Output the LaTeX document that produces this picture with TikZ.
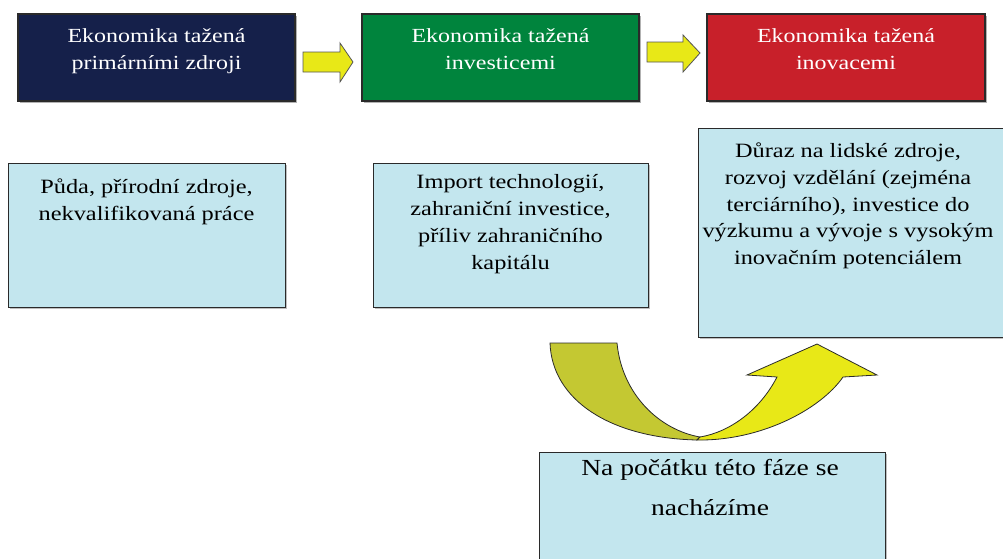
\documentclass[tikz,border=0pt]{standalone}
\usepackage{fontspec}
\usetikzlibrary{shadows}
\setmainfont{Liberation Serif}
\newfontfamily\tnr{Liberation Serif}[FakeStretch=1.2]
\definecolor{navybox}{HTML}{15204A}
\definecolor{greenbox}{HTML}{00843D}
\definecolor{redbox}{HTML}{C8202A}
\definecolor{lightblue}{HTML}{C3E6EE}
\definecolor{arrowyellow}{HTML}{E8E817}
\definecolor{arrowolive}{HTML}{C4C832}
\definecolor{edge}{HTML}{2A2A2A}
\begin{document}
\begin{tikzpicture}[x=1pt,y=-1pt,
  topbox/.style={draw=edge, line width=1.2pt, minimum width=277pt, minimum height=87pt, inner sep=0pt,
    drop shadow={shadow xshift=1.5pt, shadow yshift=-1.5pt, fill=black!60}},
  bluebox/.style={draw=edge, line width=1pt, fill=lightblue, inner sep=0pt,
    drop shadow={shadow xshift=1.5pt, shadow yshift=-1.5pt, fill=black!50}},
  toptext/.style={text=white, align=center, anchor=north, inner sep=0pt, font=\tnr\fontsize{20}{27}\selectfont},
  boxtext/.style={text=black, align=center, anchor=north, inner sep=0pt, font=\tnr\fontsize{20.3}{26.8}\selectfont},
  flatarrow/.style={fill=arrowyellow, draw=edge!80, line width=0.8pt}
]
\useasboundingbox (0,0) rectangle (1003,558);

% top boxes
\node[topbox, fill=navybox] (t1) at (156.5,57.5) {};
\node[topbox, fill=greenbox] (t2) at (500.5,57.5) {};
\node[topbox, fill=redbox, minimum width=278pt] (t3) at (846,57.5) {};
\node[toptext] (t1t) at ([yshift=-15pt]t1.north) {Ekonomika tažená\\primárními zdroji};
\node[toptext] (t2t) at ([yshift=-15pt]t2.north) {Ekonomika tažená\\investicemi};
\node[toptext] (t3t) at ([yshift=-15pt]t3.north) {Ekonomika tažená\\inovacemi};

% small arrows between top boxes
\coordinate (a1) at (303,52);
\coordinate (a2) at (647,42);
\draw[flatarrow] (a1) -- ++(37,0) -- ++(0,-9) -- ++(13,19) -- ++(-13,20) -- ++(0,-10) -- ++(-37,0) -- cycle;
\draw[flatarrow] (a2) -- ++(36,0) -- ++(0,-7) -- ++(17,18) -- ++(-17,19) -- ++(0,-10) -- ++(-36,0) -- cycle;

% light blue boxes
\node[bluebox, minimum width=277pt, minimum height=144pt] (b1) at (146.5,235) {};
\node[bluebox, minimum width=275pt, minimum height=144pt] (b2) at (510.5,235) {};
\node[bluebox, minimum width=310pt, minimum height=209pt] (b3) at (853,232.5) {};
\node[bluebox, minimum width=346pt, minimum height=120pt] (b4) at (712,512) {};

\node[boxtext] (b1t) at ([yshift=-16pt]b1.north) {Půda, přírodní zdroje,\\nekvalifikovaná práce};
\node[boxtext] (b2t) at ([yshift=-12pt]b2.north) {Import technologií,\\zahraniční investice,\\příliv zahraničního\\kapitálu};
\node[boxtext] (b3t) at ([xshift=-5pt,yshift=-15pt]b3.north) {Důraz na lidské zdroje,\\rozvoj vzdělání (zejména\\terciárního), investice do\\výzkumu a vývoje s vysokým\\inovačním potenciálem};
\node[boxtext, font=\tnr\fontsize{23}{40}\selectfont] (b4t) at ([xshift=-2pt,yshift=-8pt]b4.north) {Na počátku této fáze se\\nacházíme};

% curved arrow
\draw[fill=arrowolive, draw=edge, line width=0.8pt]
  (550,343) -- (617,343) .. controls (622,395) and (660,430) .. (700,437)
  -- (697,440) .. controls (610,438) and (552,400) .. (550,343) -- cycle;
\draw[fill=arrowyellow, draw=edge, line width=0.8pt]
  (697,440) .. controls (760,441) and (820,410) .. (843,377) -- (877,375) -- (817,344)
  -- (747,375) -- (777,377) .. controls (760,410) and (730,432) .. (700,437) -- cycle;
\end{tikzpicture}
\end{document}
